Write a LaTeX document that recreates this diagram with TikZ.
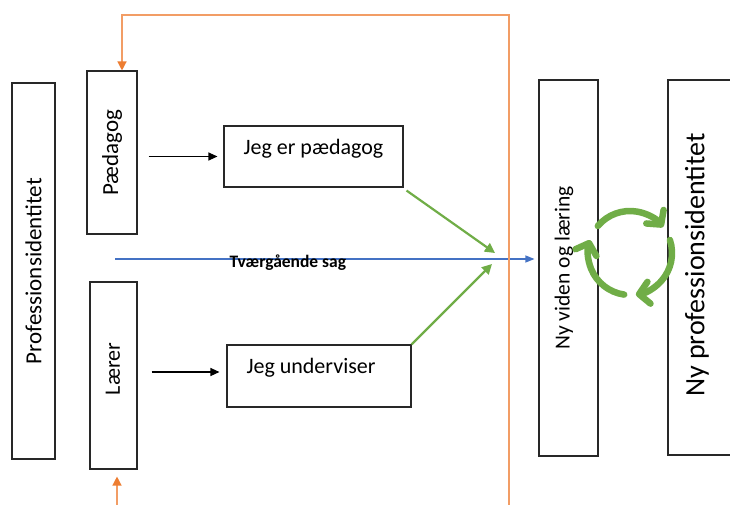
\documentclass[tikz,border=0pt]{standalone}
\usepackage{fontspec}
\setmainfont{Carlito}
\usetikzlibrary{arrows.meta,calc}
\definecolor{oorange}{RGB}{237,125,49}
\definecolor{oblue}{RGB}{68,114,196}
\definecolor{ogreen}{RGB}{112,173,71}
\definecolor{boxline}{RGB}{40,40,40}
\begin{document}
\begin{tikzpicture}[x=1pt,y=-1pt,
  box/.style={draw=boxline, line width=1.1pt, inner sep=0pt},
  big/.style={font=\fontsize{22}{26}\selectfont},
  bigger/.style={font=\fontsize{23}{27}\selectfont},
  blackarrow/.style={draw=black, line width=1.2pt, -{Triangle[length=9pt,width=8pt]}},
  greenarrow/.style={draw=ogreen, line width=2.2pt, -{Triangle[length=10pt,width=10pt]}},
  bluearrow/.style={draw=oblue, line width=1.1pt, -{Triangle[length=9pt,width=7pt]}},
  orangeline/.style={draw=oorange!75, line width=1.3pt},
  orangetip/.style={-{Triangle[length=9pt,width=9pt,color=oorange]}},
  cyclearc/.style={draw=ogreen, line width=6.5pt, -{Straight Barb[length=10pt,width=22pt,round]}}
]
\useasboundingbox (0,0) rectangle (730,505);
\begin{scope}
\clip (0,0) rectangle (730,505);

% boxes
\node[box, minimum width=43pt, minimum height=376pt,
  label={[rotate=90, bigger]center:Professionsidentitet}] (prof) at (33.5,271) {};
\node[box, minimum width=50pt, minimum height=163pt,
  label={[rotate=90, bigger]center:Pædagog}] (paed) at (112,152.5) {};
\node[box, minimum width=47pt, minimum height=187pt] (laerer) at (113.5,375.5) {};
\node[rotate=90, big] (laerertxt) at (113,369) {Lærer};
\node[box, minimum width=179pt, minimum height=61pt] (jeg1) at (313.5,156.5) {};
\node[big, anchor=base west] (jeg1txt) at (240,155) {Jeg er pædagog};
\node[box, minimum width=184pt, minimum height=62pt] (jeg2) at (319,376) {};
\node[big, anchor=base west] (jeg2txt) at (243,373) {Jeg underviser};
\node[box, minimum width=59pt, minimum height=376pt] (nyviden) at (568.5,268) {};
\node[rotate=90, font=\fontsize{21.5}{25}\selectfont] (nyvidentxt) at (564,268) {Ny viden og læring};
\node[box, minimum width=80pt, minimum height=375pt] (nyprof) at (708,267.5) {};
\node[rotate=90, font=\fontsize{28}{32}\selectfont] (nyproftxt) at (697,265) {Ny professionsidentitet};

% black arrows
\draw[blackarrow, shorten <=11pt, shorten >=6pt] (paed.east |- jeg1.west) -- (jeg1.west);
\draw[blackarrow, shorten <=14pt, shorten >=7pt] ([yshift=4pt]laerer.east |- jeg2.west) -- ([yshift=4pt]jeg2.west);

% blue arrow and label
\coordinate (bstart) at (115,259);
\draw[bluearrow, shorten >=4pt] (bstart) -- (bstart -| nyviden.west);
\node[font=\bfseries\fontsize{17.5}{20}\selectfont, anchor=base west] (sag) at (226,267) {Tværgående sag};

% green arrows
\coordinate (gm1) at (495,253);
\coordinate (gm2) at (492,264);
\draw[greenarrow] ([shift={(3pt,-3pt)}]jeg1.south east) -- (gm1);
\draw[greenarrow] (jeg2.north east) -- (gm2);

% orange feedback lines
\coordinate (ob1) at (509,506);
\coordinate (oc1) at (509,15);
\coordinate (oc2) at (122,15);
\draw[orangeline, orangetip] (ob1) -- (oc1) -- (oc2) -- (oc2 |- paed.north);
\coordinate (ob2) at (117,506);
\draw[orangeline, orangetip, shorten >=7pt] (ob2) -- (ob2 |- laerer.south);

% cycle arrows
\begin{scope}[shift={(630,253)}, x=1pt, y=1pt]
  \draw[cyclearc, line cap=round] (140:42) arc[start angle=140, end angle=38, radius=42];
  \draw[cyclearc, line cap=round] (18:42) arc[start angle=18, end angle=-82, radius=42];
  \draw[cyclearc, line cap=round] (-98:42) arc[start angle=-98, end angle=-198, radius=42];
\end{scope}
\end{scope}
\end{tikzpicture}
\end{document}
